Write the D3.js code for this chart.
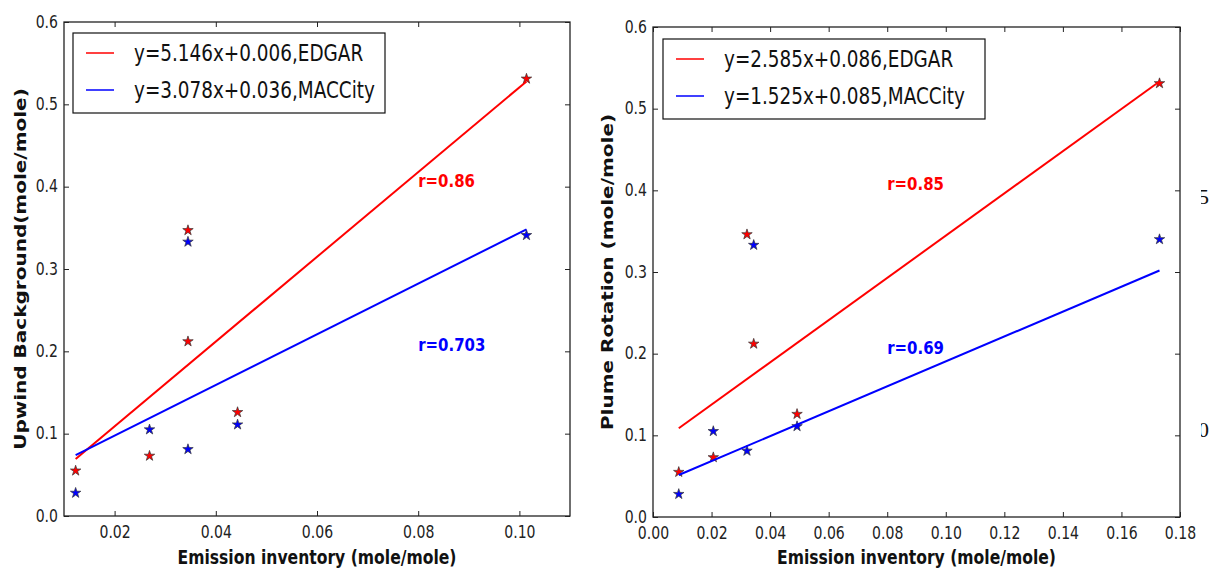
<!DOCTYPE html>
<html>
<head>
<meta charset="utf-8">
<script src="https://cdn.jsdelivr.net/npm/d3@7"></script>
<style>
  html, body { margin: 0; padding: 0; background: #fff; }
  svg { display: block; font-family: "DejaVu Sans", sans-serif; }
</style>
</head>
<body>
<svg id="chart" width="1211" height="570"></svg>
<script>
// observed ratio (y) vs emission inventory ratio (x), two inventories
const leftX = [0.0123, 0.0269, 0.0345, 0.0345, 0.0443, 0.1014];
const leftEdgar = [0.055, 0.073, 0.347, 0.212, 0.126, 0.531];
const leftMacc = [0.028, 0.105, 0.333, 0.081, 0.111, 0.341];

const rightX = [0.0088, 0.0206, 0.0321, 0.0344, 0.0492, 0.1730];
const rightEdgar = [0.055, 0.073, 0.346, 0.212, 0.126, 0.531];
const rightMacc = [0.028, 0.105, 0.081, 0.333, 0.111, 0.340];

// fitted lines as drawn: [EDGAR, MACCity]
const leftSlope = [5.146, 3.078];
const leftIntercept = [0.006, 0.036];
const rightSlope = [2.585, 1.525];
const rightIntercept = [0.086, 0.038];

const leftLegend = ["y=5.146x+0.006,EDGAR", "y=3.078x+0.036,MACCity"];
const rightLegend = ["y=2.585x+0.086,EDGAR", "y=1.525x+0.085,MACCity"];
const leftR = ["r=0.86", "r=0.703"];
const rightR = ["r=0.85", "r=0.69"];
const rPosX = [0.08, 0.08];
const rPosY = [0.40, 0.20];

const leftXTicks = [0.02, 0.04, 0.06, 0.08, 0.10];
const rightXTicks = [0, 0.02, 0.04, 0.06, 0.08, 0.10, 0.12, 0.14, 0.16, 0.18];
const yTicks = [0, 0.1, 0.2, 0.3, 0.4, 0.5, 0.6];

const colors = ["#ff0000", "#0000ff"];
const svg = d3.select("#chart");

// the picture is horizontally squeezed; mimic it on the texts
function squeeze(sel, k) {
  sel.each(function () {
    const len = this.getComputedTextLength();
    d3.select(this).attr("textLength", len * k).attr("lengthAdjust", "spacingAndGlyphs");
  });
}

function panel(p) {
  const x = d3.scaleLinear().domain(p.xDomain).range([p.x0, p.x1]);
  const y = d3.scaleLinear().domain([0, 0.6]).range([p.y1, p.y0]);
  const g = svg.append("g");

  // ticks on all four sides, pointing inward
  const bottom = g.append("g").attr("transform", `translate(0,${p.y1})`)
    .call(d3.axisBottom(x).tickValues(p.xTicks).tickFormat(d3.format(".2f"))
      .tickSize(-5).tickSizeOuter(0).tickPadding(9));
  g.append("g").attr("transform", `translate(0,${p.y0})`)
    .call(d3.axisTop(x).tickValues(p.xTicks).tickFormat("").tickSize(-5).tickSizeOuter(0));
  const left = g.append("g").attr("transform", `translate(${p.x0},0)`)
    .call(d3.axisLeft(y).tickValues(yTicks).tickFormat(d3.format(".1f"))
      .tickSize(-5).tickSizeOuter(0).tickPadding(6));
  g.append("g").attr("transform", `translate(${p.x1},0)`)
    .call(d3.axisRight(y).tickValues(yTicks).tickFormat("").tickSize(-5).tickSizeOuter(0));
  g.selectAll(".domain").remove();
  g.selectAll(".tick line").attr("stroke", "#222");
  [bottom, left].forEach(a => {
    a.selectAll("text").attr("fill", "#222").style("font-size", "18px")
      .style("font-family", "DejaVu Sans");
    squeeze(a.selectAll("text"), 0.78);
  });
  left.selectAll("text").attr("dy", "0.28em");

  // markers first, fit lines on top
  const star = d3.symbol(d3.symbolStar, 34);
  [p.edgar, p.macc].forEach((ys, s) => {
    g.selectAll(null).data(ys).join("path")
      .attr("transform", (d, i) => `translate(${x(p.xs[i])},${y(d)})`)
      .attr("d", star).attr("fill", colors[s])
      .attr("stroke", "#333").attr("stroke-width", 0.7);
  });

  const [xmin, xmax] = d3.extent(p.xs);
  const line = d3.line().x(d => x(d[0])).y(d => y(d[1]));
  p.slope.forEach((m, s) => {
    const pts = [xmin, xmax].map(v => [v, m * v + p.intercept[s]]);
    g.append("path").datum(pts).attr("d", line)
      .attr("fill", "none").attr("stroke", colors[s]).attr("stroke-width", 2);
  });

  // r annotations
  p.rText.forEach((t, s) => {
    const tx = g.append("text").attr("x", x(rPosX[s])).attr("y", y(rPosY[s]))
      .attr("fill", colors[s]).style("font-size", "18px").style("font-weight", "bold")
      .text(t);
    squeeze(tx, 0.83);
  });

  // frame
  g.append("rect").attr("x", p.x0).attr("y", p.y0)
    .attr("width", p.x1 - p.x0).attr("height", p.y1 - p.y0)
    .attr("fill", "none").attr("stroke", "#222").attr("stroke-width", 1.3);

  // legend
  const lg = g.append("g");
  lg.append("rect").attr("x", p.lx).attr("y", p.ly).attr("width", p.lw).attr("height", 80)
    .attr("fill", "#fff").attr("stroke", "#111").attr("stroke-width", 1.2);
  p.legend.forEach((t, s) => {
    const cy = p.ly + 20 + s * 37;
    lg.append("line").attr("x1", p.lx + 13).attr("x2", p.lx + 41)
      .attr("y1", cy).attr("y2", cy).attr("stroke", colors[s]).attr("stroke-width", 1.5);
    const tx = lg.append("text").attr("x", p.lx + 61).attr("y", cy).attr("dy", "0.35em")
      .attr("fill", "#111").style("font-size", "23px").text(t);
    squeeze(tx, 0.8);
  });

  // axis titles
  const xl = g.append("text").attr("x", (p.x0 + p.x1) / 2).attr("y", 557).attr("dy", "0.35em")
    .attr("text-anchor", "middle").attr("fill", "#111")
    .style("font-size", "20px").style("font-weight", "bold").text("Emission inventory (mole/mole)");
  squeeze(xl, 0.78);
  g.append("text")
    .attr("transform", `translate(${p.ylx},${(p.y0 + p.y1) / 2}) scale(0.8,1) rotate(-90)`)
    .attr("dy", "0.35em").attr("text-anchor", "middle").attr("fill", "#111")
    .style("font-size", "20px").style("font-weight", "bold").text(p.yTitle);
}

panel({
  x0: 64, x1: 570, y0: 22, y1: 516, xDomain: [0.01, 0.11], xTicks: leftXTicks,
  xs: leftX, edgar: leftEdgar, macc: leftMacc, slope: leftSlope, intercept: leftIntercept,
  rText: leftR, legend: leftLegend, lx: 73, ly: 33, lw: 312,
  ylx: 20, yTitle: "Upwind Background(mole/mole)"
});
panel({
  x0: 653, x1: 1180, y0: 27, y1: 517, xDomain: [0, 0.18], xTicks: rightXTicks,
  xs: rightX, edgar: rightEdgar, macc: rightMacc, slope: rightSlope, intercept: rightIntercept,
  rText: rightR, legend: rightLegend, lx: 663, ly: 39, lw: 322,
  ylx: 607, yTitle: "Plume Rotation (mole/mole)"
});

// clipped fragments of a neighbouring figure at the right edge
svg.append("clipPath").attr("id", "edge").append("rect")
  .attr("x", 1201).attr("y", 0).attr("width", 10).attr("height", 570);
const frag = svg.append("g").attr("clip-path", "url(#edge)");
frag.selectAll("text").data(["5", "0"]).join("text")
  .attr("x", 1198).attr("y", (d, i) => [196, 429][i]).attr("dy", "0.35em")
  .attr("fill", "#111").style("font-family", "Liberation Serif").style("font-size", "22px")
  .text(d => d);
</script>
</body>
</html>
